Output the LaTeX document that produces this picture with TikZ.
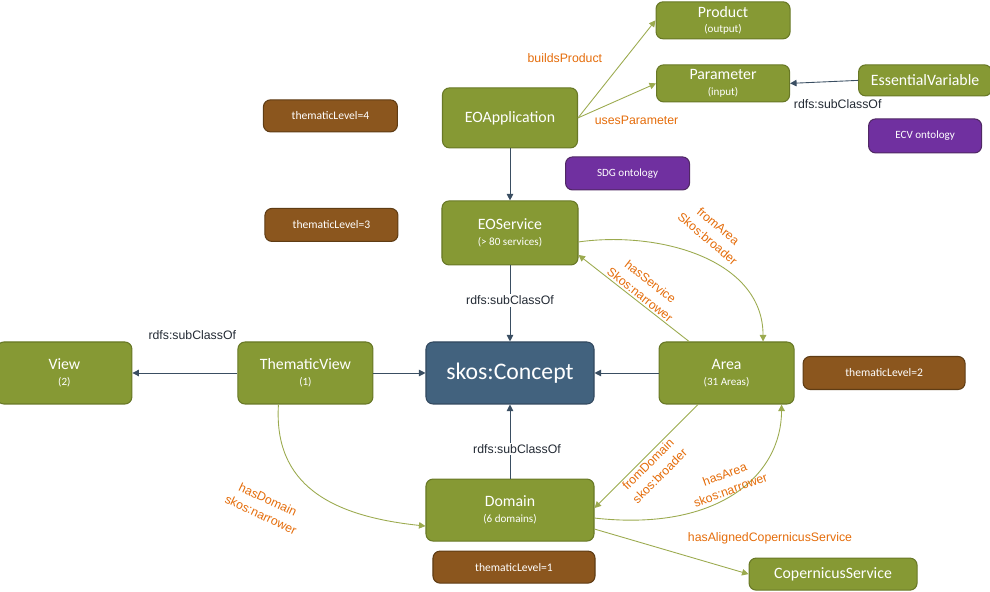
\documentclass[tikz,border=0pt]{standalone}
\usepackage{fontspec}
\setmainfont{Carlito}
\newfontfamily\labelfont{Liberation Sans}
\usepackage{tikz}
\usetikzlibrary{calc}
\usetikzlibrary{positioning}
\usetikzlibrary{arrows.meta}

\definecolor{olivebox}{RGB}{134,153,52}
\definecolor{oliveedge}{RGB}{104,120,38}
\definecolor{olivearrow}{RGB}{155,170,78}
\definecolor{brownbox}{RGB}{139,86,30}
\definecolor{brownedge}{RGB}{95,60,20}
\definecolor{purplebox}{RGB}{112,48,160}
\definecolor{purpleedge}{RGB}{80,40,100}
\definecolor{skosblue}{RGB}{66,98,126}
\definecolor{skosedge}{RGB}{50,72,95}
\definecolor{darkarrow}{RGB}{58,78,98}
\definecolor{relorange}{RGB}{228,108,10}
\definecolor{reldark}{RGB}{35,42,52}

\newcommand{\boxnote}[1]{{\fontsize{6.3}{7}\selectfont #1}}

\begin{document}
\begin{tikzpicture}[classnode/.style={rectangle, rounded corners=4pt, draw=oliveedge, fill=olivebox, line width=0.6pt, text=white, align=center, font=\fontsize{9}{9}\selectfont, minimum width=2.7cm, minimum height=1.24cm, inner sep=1pt},
    levelnode/.style={rectangle, rounded corners=4pt, draw=brownedge, fill=brownbox, line width=0.6pt, text=white, font=\fontsize{6.6}{7}\selectfont, inner sep=1pt},
    ontonode/.style={rectangle, rounded corners=4pt, draw=purpleedge, fill=purplebox, line width=0.6pt, text=white, font=\fontsize{6.3}{7}\selectfont, inner sep=1pt},
    conceptnode/.style={rectangle, rounded corners=4pt, draw=skosedge, fill=skosblue, line width=0.6pt, text=white, font=\fontsize{13.5}{14}\selectfont, minimum width=3.36cm, minimum height=1.24cm, inner sep=1pt},
    isa/.style={color=darkarrow, line width=0.5pt, -{Triangle[length=1.3mm, width=1.3mm]}},
    rel/.style={color=olivearrow, line width=0.5pt, -{Triangle[length=1.3mm, width=1.3mm]}},
    isalabel/.style={font=\labelfont\fontsize{7}{9}\selectfont, text=reldark, inner sep=1pt},
    rellabel/.style={font=\labelfont\fontsize{7}{9.5}\selectfont, text=relorange, inner sep=1pt, align=center}]
        \useasboundingbox (-10.2,-4.38) rectangle (9.6,7.46);

        \node[conceptnode] (concept) {skos:Concept};
        \node[classnode, minimum width=2.72cm, minimum height=1.28cm] (eoservice) [above=1.52cm of concept] {EOService\\\boxnote{(> 80 services)}};
        \node[classnode, minimum height=1.2cm] (eoapp) [above=1.04cm of eoservice] {EOApplication};
        \node[classnode] (thematicview) [left=1.04cm of concept] {ThematicView\\\boxnote{(1)}};
        \node[classnode] (view) [left=2.1cm of thematicview] {View\\\boxnote{(2)}};
        \node[classnode] (area) [right=1.28cm of concept] {Area\\\boxnote{(31 Areas)}};
        \node[levelnode, minimum width=3.24cm, minimum height=0.66cm] (level2) [right=0.16cm of area] {thematicLevel=2};
        \node[classnode, minimum width=3.36cm] (domain) [below=1.48cm of concept] {Domain\\\boxnote{(6 domains)}};
        \node[levelnode, minimum width=3.24cm, minimum height=0.64cm] (level1) [below=0.18cm of domain, xshift=0.08cm] {thematicLevel=1};
        \node[classnode, minimum width=3.36cm, minimum height=0.64cm] (copernicus) [right=3.06cm of level1, yshift=-0.14cm] {CopernicusService};
        \node[levelnode, minimum width=2.66cm, minimum height=0.66cm] (level3) [left=0.86cm of eoservice, yshift=0.16cm] {thematicLevel=3};
        \node[levelnode, minimum width=2.68cm, minimum height=0.64cm] (level4) [left=0.88cm of eoapp, yshift=0.04cm] {thematicLevel=4};
        \node[ontonode, minimum width=2.48cm, minimum height=0.66cm] (sdg) [below=0.16cm of eoapp.south east, anchor=north west, xshift=-0.26cm] {SDG ontology};
        \node[classnode, minimum width=2.66cm, minimum height=0.74cm] (parameter) [right=1.56cm of eoapp, yshift=0.69cm] {Parameter\\\boxnote{(input)}};
        \node[classnode, minimum width=2.68cm, minimum height=0.74cm] (product) [above=0.5cm of parameter] {Product\\\boxnote{(output)}};
        \node[classnode, minimum width=2.66cm, minimum height=0.62cm] (essential) [right=1.36cm of parameter, yshift=0.06cm] {EssentialVariable};
        \node[ontonode, minimum width=2.26cm, minimum height=0.68cm] (ecv) [below=0.44cm of essential] {ECV ontology};

        \draw[rel] (eoapp.east) -- node[rellabel, pos=0.63, left=0.45cm, yshift=-0.04cm] {buildsProduct} (product.west);
        \draw[rel] (eoapp.east) -- node[rellabel, pos=0.75, below=0.44cm] {usesParameter} (parameter.west);
        \draw[isa] (essential.west) -- node[isalabel, pos=0.3, below=0.32cm] {rdfs:subClassOf} (parameter.east);
        \draw[isa] (eoapp) -- (eoservice);
        \draw[isa] (eoservice) -- node[isalabel, fill=white, pos=0.46] {rdfs:subClassOf} (concept);
        \draw[isa] (thematicview) -- node[isalabel, pos=0.43, above=0.62cm] {rdfs:subClassOf} (view);
        \draw[isa] (thematicview) -- (concept);
        \draw[isa] (area) -- (concept);
        \draw[isa] (domain) -- node[isalabel, fill=white, pos=0.4, xshift=0.14cm] {rdfs:subClassOf} (concept);
        \draw[rel] ([yshift=-0.18cm]eoservice.east) to[out=8, in=90] ([xshift=0.73cm]area.north);
        \node[rellabel, rotate=-40] (fromarea) at ($(area.north)+(-0.27cm,2.18cm)$) {fromArea\\Skos:broader};
        \draw[rel] ([xshift=-0.75cm]area.north) -- node[rellabel, pos=0.48, sloped, above] {hasService\\Skos:narrower} ([yshift=-0.44cm]eoservice.east);
        \draw[rel] ([xshift=-0.54cm]thematicview.south) .. controls +(-0.1,-1.6) and +(-1.9,0.2) .. ([yshift=-0.32cm]domain.west);
        \node[rellabel, rotate=-25] (hasdomain) at ($(domain.west)+(-3.22cm,0.06cm)$) {hasDomain\\skos:narrower};
        \draw[rel] ([xshift=-0.57cm]area.south) -- node[rellabel, pos=0.53, sloped, below] {fromDomain\\skos:broader} ([yshift=0.04cm]domain.east);
        \draw[rel] ([yshift=-0.16cm]domain.east) .. controls +(2.5,-0.28) and +(0,-1.4) .. ([xshift=1.1cm]area.south);
        \node[rellabel, rotate=20] (hasarea) at ($(domain.east)+(2.66cm,0.56cm)$) {hasArea\\skos:narrower};
        \draw[rel] ([yshift=-0.38cm]domain.east) -- node[rellabel, pos=0.55, above right=0.15cm and 0.13cm] {hasAlignedCopernicusService} (copernicus.west);
    \end{tikzpicture}
\end{document}
